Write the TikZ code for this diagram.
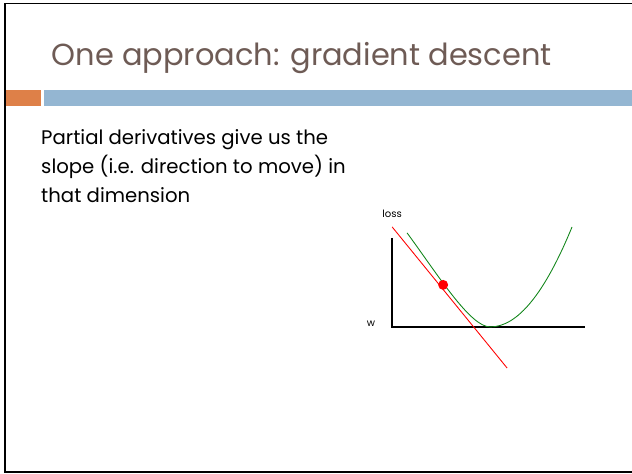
\documentclass[tikz,border=0pt]{standalone}
\usepackage{fontspec}
\setmainfont{Poppins}
\usepackage{xcolor}
\usetikzlibrary{positioning}

\definecolor{titlebrown}{HTML}{6E5B55}
\definecolor{barorange}{HTML}{DE8048}
\definecolor{barblue}{HTML}{94B6D2}
\definecolor{curvegreen}{HTML}{12861A}

\tikzset{
  titletext/.style={anchor=base west, text=titlebrown, font=\fontsize{34.8}{42}\selectfont, inner sep=0pt},
  bodytext/.style={anchor=base west, align=left, font=\fontsize{22.5}{33}\selectfont, inner sep=0pt},
  axislabel/.style={font=\fontsize{11.5}{13}\selectfont, inner sep=0pt},
  axisline/.style={line width=1.6pt, black},
}

\begin{document}
\begin{tikzpicture}

\useasboundingbox (0, 0) rectangle (25.4, 19.05);

% Slide frame
\draw[line width=1.8pt] (25.4, 18.91) -- (0.2, 18.91) -- (0.2, 0.08) -- (25.4, 0.08);

% Title bar
\fill[barorange] (0.24, 14.79) rectangle (1.65, 15.43);
\fill[barblue] (1.77, 14.79) rectangle (25.4, 15.43);

% Title and text
\node[titletext] (title) at (2.07, 16.40) {One approach: gradient descent};
\node[bodytext] (body) at (1.65, 10.93) {Partial derivatives give us the\\slope (i.e. direction to move) in\\that dimension};

% Axes
\draw[axisline] (15.76, 9.49) -- (15.76, 5.91) -- (23.52, 5.91);
\node[axislabel] (loss) at (15.76, 10.45) {loss};
\node[axislabel] (w) at (14.91, 6.05) {w};

% Loss curve
\draw[curvegreen, line width=1pt] (16.36, 9.69) .. controls (17.6, 8.0) and (18.9, 5.91) .. (19.70, 5.91)
  .. controls (20.80, 5.91) and (21.89, 7.25) .. (22.99, 9.93);

% Tangent at current point
\draw[red, line width=1pt] (15.76, 9.93) -- (20.38, 4.26);
\fill[red] (17.81, 7.60) circle (0.2);

\end{tikzpicture}
\end{document}
